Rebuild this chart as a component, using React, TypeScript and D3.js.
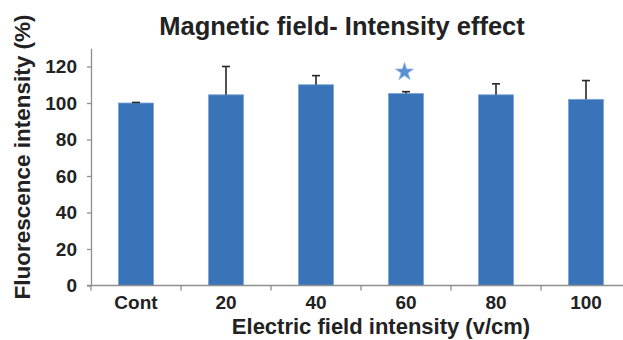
import React, { useEffect, useRef } from "react";
import * as d3 from "d3";

const categories = ["Cont", "20", "40", "60", "80", "100"];
const means = [100, 104.5, 110, 105.2, 104.5, 102];
const errors = [0.3, 15.5, 5, 1, 6, 10.3];
const starCategory = "60";
const starValue = 117;
const yTicks = [0, 20, 40, 60, 80, 100, 120];

const W = 623, H = 340;
const font = "'Liberation Sans', Arial, sans-serif";

export default function App() {
  const ref = useRef<SVGSVGElement>(null);

  useEffect(() => {
    const svg = d3.select(ref.current);
    svg.selectAll("*").remove();

    const left = 91, right = 631, bottom = 285.5;
    const x = d3.scaleBand().domain(categories).range([left, right]).padding(0);
    const y = d3.scaleLinear().domain([0, 130]).range([bottom, bottom - 130 * 1.825]);
    const barW = x.bandwidth() * 0.39;

    // bars
    svg.selectAll(".bar")
      .data(categories)
      .join("rect")
      .attr("class", "bar")
      .attr("x", (d) => x(d)! + (x.bandwidth() - barW) / 2)
      .attr("y", (d, i) => y(means[i]))
      .attr("width", barW)
      .attr("height", (d, i) => y(0) - y(means[i]))
      .attr("fill", "#3a74b8")
      .attr("stroke", "#7aa4d6")
      .attr("stroke-width", 0.8);

    // error bars (upper only)
    const eb = svg.selectAll(".err")
      .data(categories)
      .join("g")
      .attr("class", "err")
      .attr("stroke", "#262626")
      .attr("stroke-width", 1.6);
    eb.append("line")
      .attr("x1", (d) => x(d)! + x.bandwidth() / 2)
      .attr("x2", (d) => x(d)! + x.bandwidth() / 2)
      .attr("y1", (d, i) => y(means[i]))
      .attr("y2", (d, i) => y(means[i] + errors[i]));
    eb.append("line")
      .attr("x1", (d) => x(d)! + x.bandwidth() / 2 - 4)
      .attr("x2", (d) => x(d)! + x.bandwidth() / 2 + 4)
      .attr("y1", (d, i) => y(means[i] + errors[i]))
      .attr("y2", (d, i) => y(means[i] + errors[i]));

    // star
    svg.append("path")
      .attr("d", d3.symbol().type(d3.symbolStar).size(100)())
      .attr("transform", `translate(${x(starCategory)! + x.bandwidth() / 2 - 1.5},${y(starValue)})`)
      .attr("fill", "#5a8fd2")
      .attr("stroke", "#8fb4e2")
      .attr("stroke-width", 0.8);

    // y axis
    const yAxis = svg.append("g")
      .attr("transform", `translate(${left},0)`)
      .call(d3.axisLeft(y).tickValues(yTicks).tickSize(4).tickSizeOuter(0).tickPadding(10));
    yAxis.select(".domain").attr("stroke", "#8f8f8f").attr("stroke-width", 1.3);
    yAxis.selectAll(".tick line").attr("stroke", "#8f8f8f").attr("stroke-width", 1.3);
    yAxis.selectAll("text")
      .attr("fill", "#222")
      .style("font-family", font)
      .style("font-weight", "bold")
      .style("font-size", "19px");

    // x axis
    const xAxis = svg.append("g");
    xAxis.append("line")
      .attr("x1", left - 4).attr("x2", right)
      .attr("y1", y(0)).attr("y2", y(0))
      .attr("stroke", "#8f8f8f").attr("stroke-width", 1.3);
    xAxis.selectAll(".xtick")
      .data(categories)
      .join("line")
      .attr("class", "xtick")
      .attr("x1", (d) => x(d)!).attr("x2", (d) => x(d)!)
      .attr("y1", y(0)).attr("y2", y(0) + 5)
      .attr("stroke", "#8f8f8f").attr("stroke-width", 1.3);
    xAxis.selectAll(".xlabel")
      .data(categories)
      .join("text")
      .attr("class", "xlabel")
      .attr("x", (d) => x(d)! + x.bandwidth() / 2)
      .attr("y", y(0) + 23)
      .attr("text-anchor", "middle")
      .attr("fill", "#222")
      .style("font-family", font)
      .style("font-weight", "bold")
      .style("font-size", "19px")
      .text((d) => d);

    // titles
    svg.append("text")
      .attr("x", 342)
      .attr("y", 35)
      .attr("text-anchor", "middle")
      .attr("fill", "#222")
      .style("font-family", font)
      .style("font-weight", "bold")
      .style("font-size", "25.5px")
      .text("Magnetic field- Intensity effect");

    svg.append("text")
      .attr("x", 381)
      .attr("y", 334)
      .attr("text-anchor", "middle")
      .attr("fill", "#222")
      .style("font-family", font)
      .style("font-weight", "bold")
      .style("font-size", "22px")
      .text("Electric field intensity (v/cm)");

    svg.append("text")
      .attr("transform", "rotate(-90)")
      .attr("x", -157)
      .attr("y", 30)
      .attr("text-anchor", "middle")
      .attr("fill", "#222")
      .style("font-family", font)
      .style("font-weight", "bold")
      .style("font-size", "22.5px")
      .text("Fluorescence intensity (%)");
  }, []);

  return (
    <svg
      ref={ref}
      width={W}
      height={H}
      style={{ position: "absolute", left: 0, top: 0, background: "#fff" }}
    />
  );
}
